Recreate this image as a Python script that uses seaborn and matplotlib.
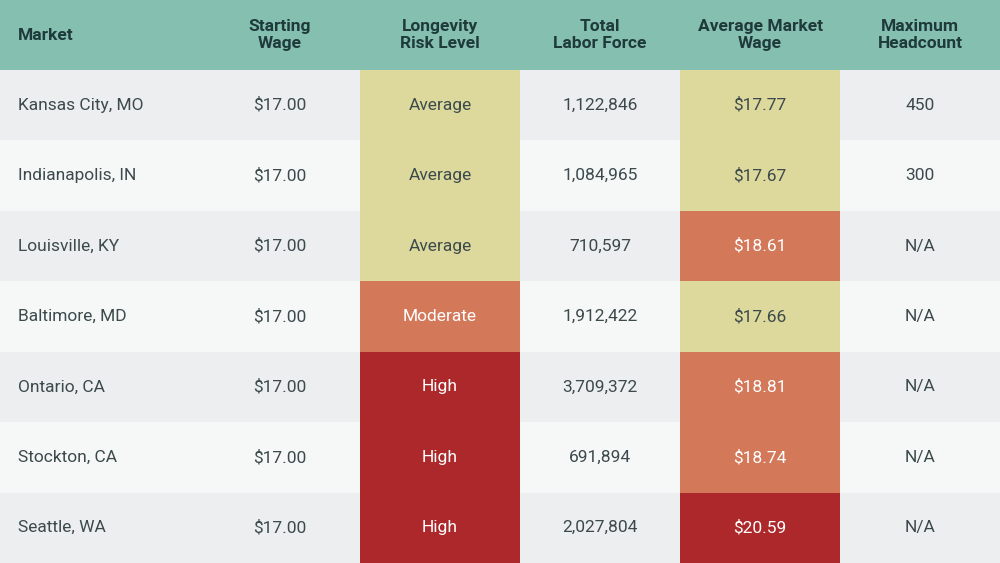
import matplotlib
matplotlib.use("Agg")
import matplotlib.pyplot as plt
from matplotlib.colors import ListedColormap
import seaborn as sns
import numpy as np

headers = ["Market", "Starting\nWage", "Longevity\nRisk Level", "Total\nLabor Force", "Average Market\nWage", "Maximum\nHeadcount"]
markets = ["Kansas City, MO", "Indianapolis, IN", "Louisville, KY", "Baltimore, MD", "Ontario, CA", "Stockton, CA", "Seattle, WA"]
starting_wage = ["$17.00"] * 7
risk = ["Average", "Average", "Average", "Moderate", "High", "High", "High"]
labor_force = ["1,122,846", "1,084,965", "710,597", "1,912,422", "3,709,372", "691,894", "2,027,804"]
avg_wage = ["$17.77", "$17.67", "$18.61", "$17.66", "$18.81", "$18.74", "$20.59"]
headcount = ["450", "300", "N/A", "N/A", "N/A", "N/A", "N/A"]
risk_level = {"Average": 2, "Moderate": 3, "High": 4}
wage_level = [2, 2, 3, 2, 3, 3, 4]

colors = ["#EDEEF0", "#F6F7F7", "#DDD99C", "#D4785A", "#AD282A"]
cmap = ListedColormap(colors)
widths = [5, 4, 4, 4, 4, 4]
n = len(markets)
cols = [[], [], [risk_level[r] for r in risk], [], wage_level, []]
mat = []
for i in range(n):
    bg = i % 2
    row = []
    for j, w in enumerate(widths):
        v = cols[j][i] if cols[j] else bg
        row += [v] * w
    mat.append(row)
mat = np.array(mat)

plt.rcParams["font.family"] = "Roboto"
fig = plt.figure(figsize=(10, 5.63), dpi=100)
ax = fig.add_axes([0, 0, 1, 493 / 563])
sns.heatmap(mat, cmap=cmap, vmin=-0.5, vmax=4.5, cbar=False, ax=ax, linewidths=0)
ax.set_axis_off()
data = [markets, starting_wage, risk, labor_force, avg_wage, headcount]
edges = np.cumsum([0] + widths)
for i in range(n):
    for j in range(6):
        v = mat[i, edges[j]]
        tc = "white" if v >= 3 else "#3C4A4C"
        if j == 0:
            ax.text(0.45, i + 0.5, data[j][i], ha="left", va="center", fontsize=12.5, color=tc)
        else:
            ax.text((edges[j] + edges[j + 1]) / 2, i + 0.5, data[j][i], ha="center", va="center", fontsize=12.5, color=tc)

hx = fig.add_axes([0, 493 / 563, 1, 70 / 563])
hx.set_xlim(0, 25); hx.set_ylim(0, 1)
hx.set_facecolor("#85BFB0")
hx.set_xticks([]); hx.set_yticks([])
for s in hx.spines.values():
    s.set_visible(False)
for j, h in enumerate(headers):
    if j == 0:
        hx.text(0.45, 0.5, h, ha="left", va="center", fontsize=12.5, fontweight="bold", color="#1E3A3A")
    else:
        hx.text((edges[j] + edges[j + 1]) / 2, 0.5, h, ha="center", va="center", fontsize=12.5,
                fontweight="bold", color="#1E3A3A", linespacing=1.2)
fig.savefig("out.png", dpi=100)
